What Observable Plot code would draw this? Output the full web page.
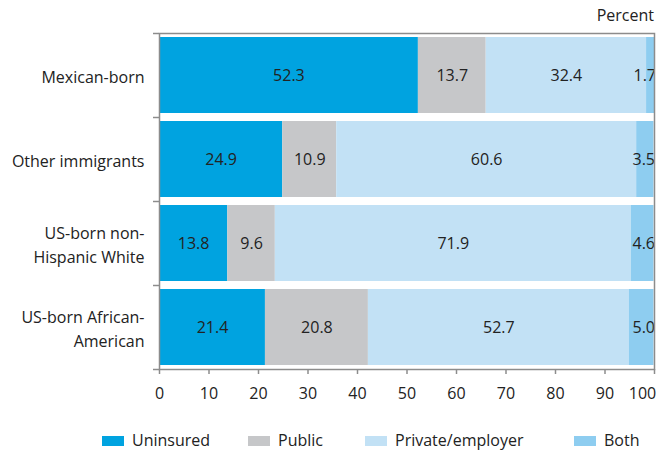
<!DOCTYPE html>
<html>
<head>
<meta charset="utf-8">
<script src="https://cdn.jsdelivr.net/npm/d3@7"></script>
<script src="https://cdn.jsdelivr.net/npm/@observablehq/plot@0.6"></script>
<style>
  html, body { margin: 0; padding: 0; background: #fff; }
  #wrap { position: relative; width: 659px; height: 452px; font-family: "Open Sans", sans-serif; color: #222; }
  #unit { position: absolute; top: 4px; right: 5px; font-size: 16px; }
  #legend { position: absolute; top: 430px; left: 0; width: 659px; height: 20px; font-size: 16px; line-height: 20px; }
  .item { position: absolute; top: 0; display: flex; align-items: center; white-space: nowrap; }
  .sw { width: 22px; height: 10px; margin-right: 8px; margin-top: 2px; }
  svg { position: absolute; top: 0; left: 0; }
</style>
</head>
<body>
<div id="wrap">
  <div id="unit">Percent</div>
  <div id="legend"></div>
</div>
<script>
const categories = ["Mexican-born", "Other immigrants", "US-born non-\nHispanic White", "US-born African-\nAmerican"];
const series = ["Uninsured", "Public", "Private/employer", "Both"];
const uninsured = [52.3, 24.9, 13.8, 21.4];
const publicIns = [13.7, 10.9, 9.6, 20.8];
const privateIns = [32.4, 60.6, 71.9, 52.7];
const both = [1.7, 3.5, 4.6, 5.0];
const colors = ["#00a3e0", "#c6c7c9", "#c2e1f5", "#8ecdf0"];
const xTicks = [0, 10, 20, 30, 40, 50, 60, 70, 80, 90, 100];

const valuesBySeries = [uninsured, publicIns, privateIns, both];
const data = [];
categories.forEach((c, i) => {
  series.forEach((s, j) => {
    data.push({category: c, series: s, value: valuesBySeries[j][i]});
  });
});
const lastTick = xTicks[xTicks.length - 1];
const lastSeries = series[series.length - 1];

const chart = Plot.plot({
  width: 659,
  height: 420,
  marginLeft: 159,
  marginRight: 5,
  marginTop: 33,
  marginBottom: 51,
  style: {fontFamily: "'Open Sans', sans-serif", fontSize: "16px", color: "#222", background: "transparent"},
  x: {domain: [0, 100]},
  y: {domain: categories, paddingInner: 0.1, paddingOuter: 0.05},
  color: {domain: series, range: colors},
  marks: [
    Plot.barX(data, Plot.stackX({y: "category", x: "value", fill: "series", order: null})),
    Plot.text(data, Plot.stackX({y: "category", x: "value", order: null,
      text: d => d.series === lastSeries ? "" : d.value.toFixed(1), fill: "#222", fontSize: 16})),
    Plot.text(data, Plot.stackX2({y: "category", x: "value", order: null,
      text: d => d.series === lastSeries ? d.value.toFixed(1) : "", textAnchor: "end", dx: 1, fill: "#222", fontSize: 16, clip: true})),
    Plot.frame({stroke: "#8c8c8c", strokeWidth: 1.5}),
    Plot.axisX({ticks: xTicks, tickSize: 5, tickPadding: 13, label: null, stroke: "#8c8c8c", fill: "#222", strokeWidth: 1.5, fontSize: 16,
      tickFormat: d => d === lastTick ? "" : String(d)}),
    Plot.axisX({ticks: [lastTick], tickSize: 0, tickPadding: 18, label: null, dx: -12, fill: "#222", fontSize: 16}),
    Plot.axisY({tickSize: 0, tickPadding: 15, label: null, lineHeight: 1.45, fill: "#222", fontSize: 16}),
    Plot.axisY({tickSize: 6, tickFormat: () => "", label: null, dy: -42, stroke: "#8c8c8c", strokeWidth: 1.5}),
    Plot.axisY({ticks: [categories[categories.length - 1]], tickSize: 6, tickFormat: () => "", label: null, dy: 42, stroke: "#8c8c8c", strokeWidth: 1.5})
  ]
});
document.getElementById("wrap").prepend(chart);

const legendLeft = [102, 248, 365, 574];
const legend = document.getElementById("legend");
series.forEach((s, i) => {
  const item = document.createElement("div");
  item.className = "item";
  item.style.left = legendLeft[i] + "px";
  const sw = document.createElement("div");
  sw.className = "sw";
  sw.style.background = colors[i];
  const t = document.createElement("span");
  t.textContent = s;
  item.append(sw, t);
  legend.append(item);
});
</script>
</body>
</html>
